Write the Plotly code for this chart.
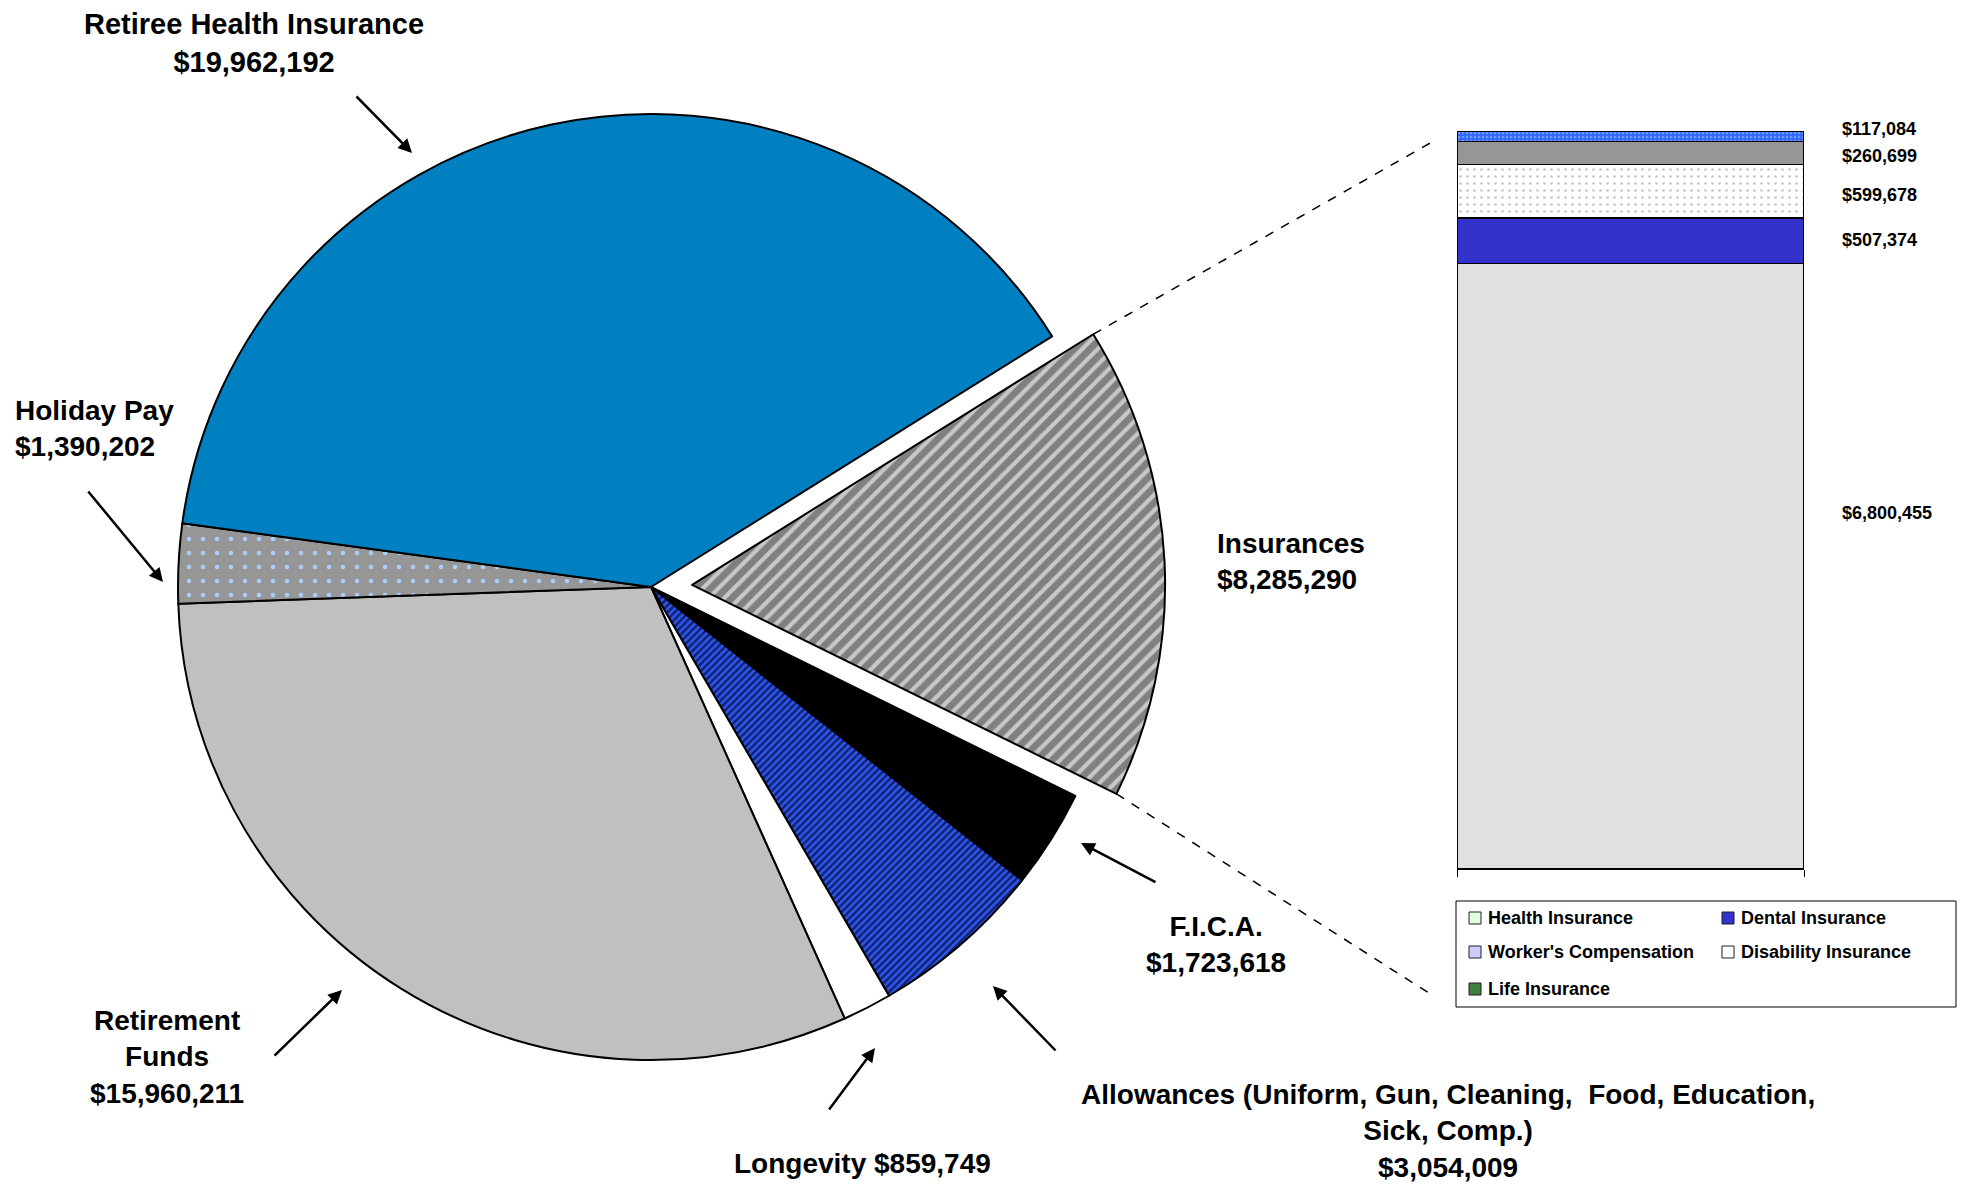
import math
import plotly.graph_objects as go

W, H = 1968, 1186

# ---------------- data ----------------
# Benefit categories, listed clockwise from the exploded "Insurances" slice
pie_names = ["Insurances", "F.I.C.A.", "Allowances", "Longevity",
             "Retirement Funds", "Holiday Pay", "Retiree Health Insurance"]
pie_values = [8285290, 1723618, 3054009, 859749, 15960211, 1390202, 19962192]
pie_captions = ["Insurances", "F.I.C.A.",
                "Allowances (Uniform, Gun, Cleaning,  Food, Education,<br>Sick, Comp.)",
                "Longevity", "Retirement<br>Funds", "Holiday Pay",
                "Retiree Health Insurance"]

# Breakdown of the Insurances slice, bottom to top of the stacked bar
ins_names = ["Health Insurance", "Dental Insurance", "Worker's Compensation",
             "Disability Insurance", "Life Insurance"]
ins_values = [6800455, 507374, 599678, 260699, 117084]


def money(v):
    return "${:,}".format(v)


def px(x):
    return x / W


def py(y):
    return 1 - y / H


FONT = "Liberation Sans, Arial, sans-serif"

# ---------------- pie styling ----------------
pie_fill = ["#808080", "#000000", "#2b58f0", "#FFFFFF", "#C0C0C0", "#969696", "#0080C0"]
pie_shape = ["/", "", "/", "", "", ".", ""]
pie_fg = ["#c8c8c8", "#000000", "#142070", "#FFFFFF", "#C0C0C0", "#a8d0ff", "#0080C0"]
pie_psize = [11, 8, 5, 8, 8, 14, 8]
pie_solid = [0.38, 0.3, 0.5, 0.3, 0.3, 0.08, 0.3]
pie_pull = [0.087, 0, 0, 0, 0, 0, 0]

cx, cy, R = 651, 587, 473          # pie centre and radius in pixels
rotation = 58                      # first slice starts 58 deg clockwise from 12 o'clock
half = R * (1 + max(pie_pull))

fig = go.Figure()

fig.add_trace(go.Pie(
    values=pie_values, labels=pie_names, sort=False,
    direction="clockwise", rotation=rotation, pull=pie_pull,
    marker=dict(colors=pie_fill, line=dict(color="black", width=2),
                pattern=dict(shape=pie_shape, fgcolor=pie_fg, bgcolor=pie_fill,
                             size=pie_psize, solidity=pie_solid)),
    textinfo="none", hoverinfo="label+value", showlegend=False,
    domain=dict(x=[px(cx - half), px(cx + half)], y=[py(cy + half), py(cy - half)]),
))

# ---------------- stacked bar for the insurance breakdown ----------------
bar_fill = ["#E0E0E0", "#3333CC", "#FFFFFF", "#969696", "#3366FF"]
bar_shape = ["", "", ".", "", "."]
bar_fg = ["#E0E0E0", "#3333CC", "#8c8c8c", "#969696", "#a8d0ff"]
bar_psize = [8, 8, 7, 8, 4]
bar_solid = [0.3, 0.3, 0.12, 0.3, 0.3]

for name, v, fc, sh, fg, ps, so in zip(ins_names, ins_values, bar_fill, bar_shape,
                                       bar_fg, bar_psize, bar_solid):
    fig.add_trace(go.Bar(
        x=[0], y=[v], width=1, name=name, showlegend=False,
        marker=dict(color=fc, line=dict(color="black", width=1.5),
                    pattern=dict(shape=sh, fgcolor=fg, bgcolor=fc, size=ps, solidity=so)),
        hovertemplate=name + ": %{y:$,}<extra></extra>",
    ))

bar_left, bar_right, bar_top, bar_bottom = 1457, 1804, 131, 869
total_ins = sum(ins_values)

fig.update_layout(
    barmode="stack",
    xaxis=dict(domain=[px(bar_left), px(bar_right)], range=[-0.5, 0.5],
               showgrid=False, zeroline=False, showline=True, linecolor="black",
               linewidth=1, ticks="outside", tickvals=[-0.5, 0.5], ticklen=7,
               tickcolor="black", showticklabels=False, fixedrange=True),
    yaxis=dict(domain=[py(bar_bottom), py(bar_top)], range=[0, total_ins],
               visible=False, fixedrange=True),
)

annotations = []

# value labels to the right of the bar, nudged apart where segments are thin
label_nudge = [53, 1, -4, -3, 7]
cum = 0
for v, dy in zip(ins_values, label_nudge):
    annotations.append(dict(
        x=0.5, xref="x", y=cum + v / 2, yref="y", xanchor="left", yanchor="middle",
        xshift=36, yshift=dy, text=money(v), showarrow=False,
        font=dict(family=FONT, size=18, color="black", weight="bold")))
    cum += v

# ---------------- slice captions ----------------
caption_sep = ["<br>", "<br>", "<br>", " ", "<br>", "<br>", "<br>"]
caption_pos = [(1215, 561, "left"), (1216, 944, "center"), (1448, 1131, "center"),
               (862, 1163, "center"), (167, 1057, "center"), (13, 428, "left"),
               (254, 43, "center")]
caption_size = [28, 28, 28, 28, 28, 28, 29]

for cap, v, sep, (x, y, anc), fs in zip(pie_captions, pie_values, caption_sep,
                                        caption_pos, caption_size):
    annotations.append(dict(
        x=px(x), y=py(y), xref="paper", yref="paper", xanchor=anc, yanchor="middle",
        align=anc, text=cap + sep + money(v), showarrow=False,
        font=dict(family=FONT, size=fs, color="black", weight="bold")))

# pointer arrows: (tail, head) in pixels
arrows = [((355, 95), (412, 153)), ((87, 490), (163, 582)), ((273, 1057), (342, 990)),
          ((828, 1111), (875, 1048)), ((1057, 1052), (993, 986)), ((1157, 883), (1081, 843))]
for (tx, ty), (hx, hy) in arrows:
    annotations.append(dict(
        x=px(hx), y=py(hy), xref="paper", yref="paper", text="",
        showarrow=True, ax=tx - hx, ay=ty - hy, axref="pixel", ayref="pixel",
        arrowhead=2, arrowsize=1.1, arrowwidth=2.5, arrowcolor="black", standoff=0))

# ---------------- legend for the bar ----------------
legend_swatch = ["#E0FFE0", "#3333CC", "#CCCCFF", "#FFFFFF", "#408040"]
shapes = [dict(type="rect", xref="paper", yref="paper",
               x0=px(1456), x1=px(1956), y0=py(1007), y1=py(901),
               line=dict(color="black", width=1), fillcolor="white", layer="below")]
col_x = [1469, 1722]
row_y = [918, 952, 989]
for i, (name, col) in enumerate(zip(ins_names, legend_swatch)):
    c, r = i % 2, i // 2
    sx, sy = col_x[c], row_y[r]
    shapes.append(dict(type="rect", xref="paper", yref="paper",
                       x0=px(sx), x1=px(sx + 12), y0=py(sy + 6), y1=py(sy - 6),
                       line=dict(color="#202020", width=1), fillcolor=col))
    annotations.append(dict(
        x=px(sx + 17), y=py(sy), xref="paper", yref="paper", xanchor="left",
        yanchor="middle", text=name, showarrow=False,
        font=dict(family=FONT, size=18, color="black", weight="bold")))

# ---------------- dashed connectors from the exploded slice to the bar ----------------
frac = pie_values[0] / sum(pie_values)
a_start = 90 - rotation
a_end = a_start - 360 * frac
a_mid = (a_start + a_end) / 2
ox = cx + pie_pull[0] * R * math.cos(math.radians(a_mid))
oy = cy - pie_pull[0] * R * math.sin(math.radians(a_mid))
for ang, (ex, ey) in ((a_start, (1432, 142)), (a_end, (1432, 995))):
    sx = ox + R * math.cos(math.radians(ang))
    sy = oy - R * math.sin(math.radians(ang))
    shapes.append(dict(type="line", xref="paper", yref="paper",
                       x0=px(sx), y0=py(sy), x1=px(ex), y1=py(ey),
                       line=dict(color="black", width=1.5, dash="dash")))

fig.update_layout(
    width=W, height=H, margin=dict(l=0, r=0, t=0, b=0),
    paper_bgcolor="white", plot_bgcolor="white",
    annotations=annotations, shapes=shapes, showlegend=False,
    font=dict(family=FONT, color="black"),
)

fig.write_html("out.html")
